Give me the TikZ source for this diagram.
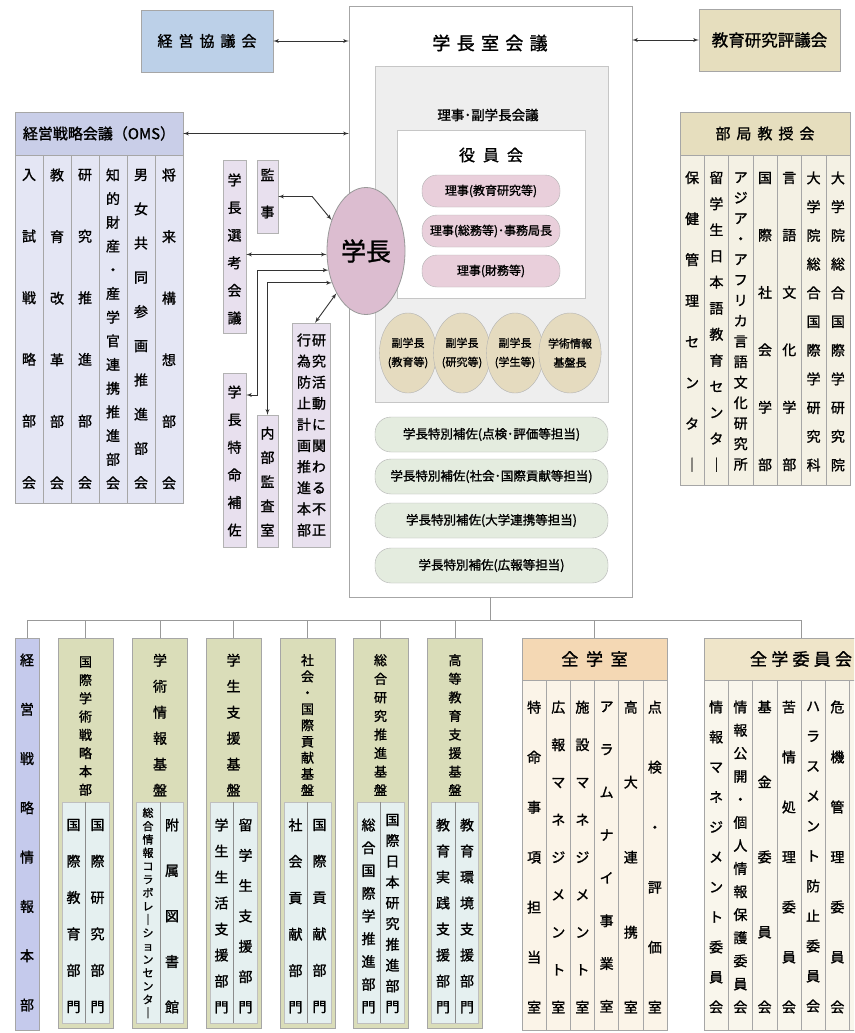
\documentclass[tikz,border=0pt]{standalone}
\usepackage{fontspec}
\setmainfont{Noto Sans CJK JP}[FakeBold=1.3]
\usetikzlibrary{arrows,shapes,calc}

\definecolor{kyougiblue}{HTML}{BCD0E8}
\definecolor{omshead}{HTML}{C9CEE8}
\definecolor{omsbody}{HTML}{E4E6F4}
\definecolor{tanhead}{HTML}{E6DEBE}
\definecolor{tanbody}{HTML}{F4F1E4}
\definecolor{mauve}{HTML}{DCBDD0}
\definecolor{pillpink}{HTML}{E9CFDB}
\definecolor{lilac}{HTML}{E8E0EE}
\definecolor{greybox}{HTML}{EEEEEE}
\definecolor{fukutan}{HTML}{E5DBBF}
\definecolor{pillgreen}{HTML}{E4ECDF}
\definecolor{kibanolive}{HTML}{DADDB9}
\definecolor{subblue}{HTML}{E5F0F0}
\definecolor{honbublue}{HTML}{C5CAEC}
\definecolor{peach}{HTML}{F4D8B4}
\definecolor{peachbody}{HTML}{FBF4E8}
\definecolor{iinhead}{HTML}{EFE5C9}
\definecolor{iinbody}{HTML}{F9F6EC}

\tikzstyle{box} = [rectangle, draw=gray!70, inner sep=0pt]
\tikzstyle{smallbox} = [rectangle, draw=gray!60, fill=lilac, inner sep=0pt]
\tikzstyle{pinkpill} = [rectangle, rounded corners=15pt, draw=gray!60, fill=pillpink,
minimum width=138, minimum height=32, inner sep=0pt, font=\fontsize{12}{13}\selectfont]
\tikzstyle{greenpill} = [rectangle, rounded corners=16pt, draw=gray!60, fill=pillgreen,
minimum width=233, minimum height=35, inner sep=0pt, font=\fontsize{12.5}{14}\selectfont]
\tikzstyle{fuku} = [ellipse, draw=gray!60, fill=fukutan, minimum width=47, minimum height=80,
inner sep=0pt, align=center, font=\fontsize{11}{19}\selectfont]
\tikzstyle{line} = [draw, <->, line width=0.9pt, black!80]
\tikzstyle{tree} = [draw=gray!80, line width=0.8pt]
\tikzset{vt/.style 2 args={align=center, inner sep=0pt, font=\fontsize{#1}{#2}\selectfont}}

\newcommand{\gp}{\hspace{0.4em}}
% vertical column of characters: [size]{name}{x}{top}{bottom}{count}{text}
\newcommand{\vcol}[7][14]{%
  \pgfmathsetmacro{\colsk}{(#5-#4)/(#6-1)}%
  \node[vt={#1}{\colsk}] (#2) at (#3,{(#4+#5)/2}) {#7};}

\begin{document}
\begin{tikzpicture}[x=1pt,y=-1pt,>=latex']
         \useasboundingbox (0,0) rectangle (854,1033);
         \clip (0,0) rectangle (854,1033);

         % top row
         \node (kyougi) [box, fill=kyougiblue, minimum width=132, minimum height=62, font=\fontsize{15}{18}\selectfont] at (207,41) {経\gp 営\gp 協\gp 議\gp 会};
         \node (hyougi) [box, fill=tanhead, minimum width=141, minimum height=62, font=\fontsize{16.5}{20}\selectfont] at (769.5,40) {教育研究評議会};

         \node (shitsu) [box, fill=white, minimum width=283, minimum height=591] at (490.5,301.5) {};
         \node (shitsut) [font=\fontsize{18}{20}\selectfont] at (490,43) {学\hspace{.35em}長\hspace{.35em}室\hspace{.35em}会\hspace{.35em}議};
         \node (riji) [box, fill=greybox, draw=gray!45, minimum width=233, minimum height=336] at (491.5,234) {};
         \node (rijit) [font=\fontsize{13.5}{16}\selectfont] at (488,115) {理事･副学長会議};
         \node (yakuin) [box, fill=white, draw=gray!45, minimum width=188, minimum height=168] at (491,214) {};
         \node (yakuint) [font=\fontsize{16}{18}\selectfont] at (491,155) {役\hspace{.5em}員\hspace{.5em}会};

         \node (riji1) [pinkpill] at (491,191) {理事(教育研究等)};
         \node (riji2) [pinkpill] at (491,231) {理事(総務等)･事務局長};
         \node (riji3) [pinkpill] at (491,271) {理事(財務等)};

         \node (fuku1) [fuku] at (408,353) {副学長\\(教育等)};
         \node (fuku2) [fuku] at (462,353) {副学長\\(研究等)};
         \node (fuku3) [fuku] at (515,353) {副学長\\(学生等)};
         \node (kiban) [fuku] at (570,353) {学術情報\\基盤長};

         \node (gakucho) [ellipse, draw=gray!80, line width=0.8pt, fill=mauve, minimum width=78, minimum height=127, inner sep=0pt, font=\fontsize{25}{26}\selectfont] at (366,251) {学長};

         \node (hosa1) [greenpill] at (491.5,434.5) {学長特別補佐(点検･評価等担当)};
         \node (hosa2) [greenpill] at (491.5,476.5) {学長特別補佐(社会･国際貢献等担当)};
         \node (hosa3) [greenpill] at (491.5,520.5) {学長特別補佐(大学連携等担当)};
         \node (hosa4) [greenpill] at (491.5,565.5) {学長特別補佐(広報等担当)};

         % OMS
         \node (omsb) [box, fill=omsbody, minimum width=168, minimum height=348] at (99,329) {};
         \node (oms) [box, fill=omshead, minimum width=168, minimum height=43, font=\fontsize{15}{18}\selectfont] at (99,133.5) {経営戦略会議（OMS）};
         \foreach \i in {1,...,5} \draw[gray!70] (15+\i*28,155) -- (15+\i*28,503);
         \vcol{o1}{29}{175}{483}{6}{入\\試\\戦\\略\\部\\会}
         \vcol{o2}{57}{175}{483}{6}{教\\育\\改\\革\\部\\会}
         \vcol{o3}{85}{175}{483}{6}{研\\究\\推\\進\\部\\会}
         \vcol{o4}{113}{175}{483}{14}{知\\的\\財\\産\\・\\産\\学\\官\\連\\携\\推\\進\\部\\会}
         \vcol{o5}{141}{175}{483}{10}{男\\女\\共\\同\\参\\画\\推\\進\\部\\会}
         \vcol{o6}{169}{175}{483}{6}{将\\来\\構\\想\\部\\会}

         % small boxes round the president
         \node (kanji) [smallbox, minimum width=21, minimum height=73] at (267.5,196.5) {};
         \node (senkou) [smallbox, minimum width=23, minimum height=173] at (234.5,246.5) {};
         \node (tokumei) [smallbox, minimum width=23, minimum height=174] at (234.5,460) {};
         \node (naibu) [smallbox, minimum width=21, minimum height=132] at (267.5,481) {};
         \node (kenkyu) [smallbox, minimum width=38, minimum height=224] at (311,435) {};
         \vcol{kanjit}{267.5}{175}{212}{2}{監\\事}
         \vcol{senkout}{234.5}{180}{318}{6}{学\\長\\選\\考\\会\\議}
         \vcol{tokumeit}{234.5}{392}{530}{6}{学\\長\\特\\命\\補\\佐}
         \vcol{naibut}{267.5}{433}{530}{5}{内\\部\\監\\査\\室}
         \vcol{kenkyu1}{319}{340}{530}{10}{研\\究\\活\\動\\に\\関\\わ\\る\\不\\正}
         \vcol{kenkyu2}{304}{340}{530}{10}{行\\為\\防\\止\\計\\画\\推\\進\\本\\部}

         % faculty council
         \node (bkb) [box, fill=tanbody, minimum width=170, minimum height=330] at (765,320) {};
         \node (bkh) [box, fill=tanhead, minimum width=170, minimum height=43, font=\fontsize{15}{18}\selectfont] at (765,133.5) {部\gp 局\gp 教\gp 授\gp 会};
         \foreach \i in {1,...,6} \draw[gray!70] (680+\i*24.29,155) -- (680+\i*24.29,485);
         \vcol{b1}{692.1}{178}{465}{8}{保\\健\\管\\理\\セ\\ン\\タ\\｜}
         \vcol{b2}{716.4}{178}{465}{12}{留\\学\\生\\日\\本\\語\\教\\育\\セ\\ン\\タ\\｜}
         \vcol{b3}{740.7}{178}{465}{15}{ア\\ジ\\ア\\・\\ア\\フ\\リ\\カ\\言\\語\\文\\化\\研\\究\\所}
         \vcol{b4}{765}{178}{465}{6}{国\\際\\社\\会\\学\\部}
         \vcol{b5}{789.3}{178}{465}{6}{言\\語\\文\\化\\学\\部}
         \vcol{b6}{813.6}{178}{465}{11}{大\\学\\院\\総\\合\\国\\際\\学\\研\\究\\科}
         \vcol{b7}{837.9}{178}{465}{11}{大\\学\\院\\総\\合\\国\\際\\学\\研\\究\\院}

         % arrows
         \path [line] (kyougi.east) -- (kyougi.east -| shitsu.west);
         \path [line] (shitsu.east |- hyougi.west) -- (hyougi.west);
         \path [line] (oms.east) -- (oms.east -| shitsu.west);
         \path [line] (kanji.east) -- ++(34,0) -- (gakucho.138);
         \path [line] (senkou.east |- gakucho.185) -- (gakucho.185);
         \coordinate (tkbend) at (257,395);
         \path [line] (gakucho.207) -| (tkbend) -- (tkbend -| tokumei.east);
         \path [line] (gakucho.223) -| (naibu.north);
         \path [line] ($(kenkyu.north)+(4,0)$) -- (gakucho.235);

         % lower row
         \node (honbu) [box, fill=honbublue, minimum width=24, minimum height=392] at (27,834) {};
         \vcol{honbut}{27}{660}{1005}{8}{経\\営\\戦\\略\\情\\報\\本\\部}

         \foreach \n/\cx in {kok/85.5,gkj/160,gks/233.5,shk/307.5,sgo/380.5,kto/455}{
           \node (\n) [box, fill=kibanolive, minimum width=55, minimum height=390] at (\cx,833) {};
           \node (\n-sub) [box, fill=subblue, draw=gray!50, minimum width=47, minimum height=221] at (\cx,912.5) {};
           \draw[gray!90] (\n-sub.north) -- (\n-sub.south);
         }
         \vcol[13]{kokh}{85.5}{662}{790}{8}{国\\際\\学\\術\\戦\\略\\本\\部}
         \vcol{kok1}{73.5}{825}{1007}{6}{国\\際\\教\\育\\部\\門}
         \vcol{kok2}{97.5}{825}{1007}{6}{国\\際\\研\\究\\部\\門}
         \vcol{gkjh}{160}{660}{790}{6}{学\\術\\情\\報\\基\\盤}
         \vcol[11]{gkj1}{148}{813}{1013}{16}{総\\合\\情\\報\\コ\\ラ\\ボ\\レ\\｜\\シ\\ョ\\ン\\セ\\ン\\タ\\｜}
         \vcol{gkj2}{172}{825}{1007}{5}{附\\属\\図\\書\\館}
         \vcol{gksh}{233.5}{660}{790}{6}{学\\生\\支\\援\\基\\盤}
         \vcol{gks1}{221.5}{825}{1007}{8}{学\\生\\生\\活\\支\\援\\部\\門}
         \vcol{gks2}{245.5}{825}{1007}{7}{留\\学\\生\\支\\援\\部\\門}
         \vcol[13]{shkh}{307.5}{660}{790}{9}{社\\会\\・\\国\\際\\貢\\献\\基\\盤}
         \vcol{shk1}{295.5}{825}{1007}{6}{社\\会\\貢\\献\\部\\門}
         \vcol{shk2}{319.5}{825}{1007}{6}{国\\際\\貢\\献\\部\\門}
         \vcol[13]{sgoh}{380.5}{660}{790}{8}{総\\合\\研\\究\\推\\進\\基\\盤}
         \vcol{sgo1}{368.5}{825}{1007}{9}{総\\合\\国\\際\\学\\推\\進\\部\\門}
         \vcol{sgo2}{392.5}{820}{1007}{10}{国\\際\\日\\本\\研\\究\\推\\進\\部\\門}
         \vcol[13]{ktoh}{455}{660}{790}{8}{高\\等\\教\\育\\支\\援\\基\\盤}
         \vcol{kto1}{443}{825}{1007}{8}{教\\育\\実\\践\\支\\援\\部\\門}
         \vcol{kto2}{467}{825}{1007}{8}{教\\育\\環\\境\\支\\援\\部\\門}

         % offices
         \node (zgs) [box, fill=peachbody, minimum width=145, minimum height=392] at (594.5,834) {};
         \node (zgsh) [box, fill=peach, minimum width=145, minimum height=42, font=\fontsize{17}{20}\selectfont] at (594.5,659) {全\hspace{.45em}学\hspace{.45em}室};
         \foreach \i in {1,...,5} \draw[gray!70] (522+\i*24.17,680) -- (522+\i*24.17,1030);
         \vcol{z1}{534.1}{707}{1007}{7}{特\\命\\事\\項\\担\\当\\室}
         \vcol{z2}{558.3}{707}{1007}{9}{広\\報\\マ\\ネ\\ジ\\メ\\ン\\ト\\室}
         \vcol{z3}{582.4}{707}{1007}{9}{施\\設\\マ\\ネ\\ジ\\メ\\ン\\ト\\室}
         \vcol{z4}{606.6}{707}{1007}{8}{ア\\ラ\\ム\\ナ\\イ\\事\\業\\室}
         \vcol{z5}{630.8}{707}{1007}{5}{高\\大\\連\\携\\室}
         \vcol{z6}{654.9}{707}{1007}{6}{点\\検\\・\\評\\価\\室}

         % committees
         \node (zgi) [box, fill=iinbody, minimum width=194, minimum height=392] at (801,834) {};
         \node (zgih) [box, fill=iinhead, minimum width=194, minimum height=42, font=\fontsize{17}{20}\selectfont] at (801,659) {全\hspace{.25em}学\hspace{.25em}委\hspace{.25em}員\hspace{.25em}会};
         \foreach \i in {1,...,7} \draw[gray!70] (704+\i*24.25,680) -- (704+\i*24.25,1030);
         \vcol{i1}{716.1}{707}{1007}{11}{情\\報\\マ\\ネ\\ジ\\メ\\ン\\ト\\委\\員\\会}
         \vcol{i2}{740.4}{707}{1007}{14}{情\\報\\公\\開\\・\\個\\人\\情\\報\\保\\護\\委\\員\\会}
         \vcol{i3}{764.6}{707}{1007}{5}{基\\金\\委\\員\\会}
         \vcol{i4}{788.9}{707}{1007}{7}{苦\\情\\処\\理\\委\\員\\会}
         \vcol{i5}{813.1}{707}{1007}{11}{ハ\\ラ\\ス\\メ\\ン\\ト\\防\\止\\委\\員\\会}
         \vcol{i6}{837.4}{707}{1007}{7}{危\\機\\管\\理\\委\\員\\会}

         % tree
         \coordinate (bus) at (490.5,620);
         \draw[tree] (shitsu.south) -- (bus);
         \draw[tree] (honbu.north |- bus) -- (zgih.north |- bus);
         \foreach \n in {honbu,kok,gkj,gks,shk,sgo,kto,zgsh,zgih} \draw[tree] (\n.north |- bus) -- (\n.north);

     \end{tikzpicture}
\end{document}
